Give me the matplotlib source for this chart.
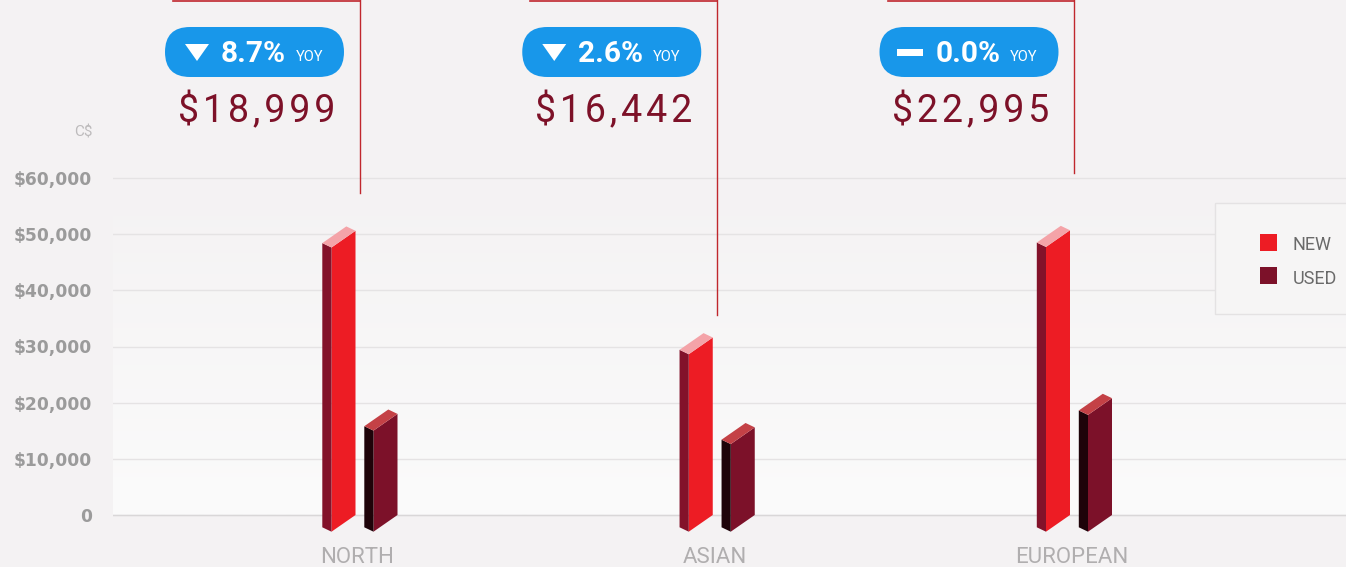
import numpy as np
import matplotlib.pyplot as plt
from matplotlib.colors import LinearSegmentedColormap
from matplotlib.patches import FancyBboxPatch, Rectangle, Polygon

plt.rcParams['font.family'] = ['Roboto', 'DejaVu Sans']

# Datos del grafico
categories = ['NORTH', 'ASIAN', 'EUROPEAN']
new_values = [50600, 31600, 50700]
used_values = [18000, 15600, 20800]
yoy_change = [-8.7, -2.6, 0.0]
avg_price = [18999, 16442, 22995]
marker_level = [57300, 35600, 60900]
y_ticks = [0, 10000, 20000, 30000, 40000, 50000, 60000]
y_labels = ['0', '$10,000', '$20,000', '$30,000', '$40,000', '$50,000', '$60,000']
legend_labels = ['NEW', 'USED']

# Colores (frente, lateral, tapa)
new_colors = ('#ed1c24', '#83122a', '#f4a3a8')
used_colors = ('#7c1129', '#1e0309', '#c44146')
bg = '#f4f2f3'
blue = '#1897ea'
crimson = '#7d1128'
line_red = '#c0272d'

# Geometria en pixeles
W, H = 1346, 567
ax_left = 113
zero_px, top_px = 515, 178
cat_px, cat_step = 359.5, 357.25

fig = plt.figure(figsize=(W / 100, H / 100), dpi=100, facecolor=bg)
ax = fig.add_axes([ax_left / W, 0, 1 - ax_left / W, 1])
ax.set_facecolor(bg)

px_per_dollar = (zero_px - top_px) / 60000
xmin = -(cat_px - ax_left) / cat_step
xmax = xmin + (W - ax_left) / cat_step
ymin = -(H - zero_px) / px_per_dollar
ymax = zero_px / px_per_dollar
ux = 1 / cat_step          # unidades x por pixel
uy = 1 / px_per_dollar     # unidades y por pixel

# Fondo degradado del area de datos
grad = np.linspace(0, 1, 256).reshape(-1, 1)
cmap = LinearSegmentedColormap.from_list('bg', ['#fbfbfb', bg])
ax.imshow(grad, extent=[xmin, xmax, 0, 60000], origin='lower', cmap=cmap,
          aspect='auto', zorder=0)

ax.set_xlim(xmin, xmax)
ax.set_ylim(ymin, ymax)
ax.grid(axis='y', color='#e5e3e4', lw=1)
ax.set_axisbelow(True)
ax.axhline(0, color='#d9d7d8', lw=1, zorder=1)
for s in ax.spines.values():
    s.set_visible(False)
ax.set_xticks([])
ax.set_yticks(y_ticks, y_labels)
for t in ax.get_yticklabels():
    t.set_fontfamily('DejaVu Sans')
    t.set_fontweight('bold')
ax.tick_params(axis='y', length=0, pad=15, labelsize=12.3, labelcolor='#9b9b9b')


# Barra 3D: esquina frontal derecha apoyada en cero
def bar3d(x_right, h, colors):
    fx, fy = 24 * ux, 16.7 * uy
    sx, sy = 9.2 * ux, 4.4 * uy
    fl = (x_right - fx, -fy)
    fr = (x_right, 0)
    lb = (fl[0] - sx, fl[1] + sy)
    br = (x_right - sx, sy)
    front = [fl, fr, (fr[0], h), (fl[0], fl[1] + h)]
    left = [lb, fl, (fl[0], fl[1] + h), (lb[0], lb[1] + h)]
    top = [(fl[0], fl[1] + h), (fr[0], h), (br[0], br[1] + h), (lb[0], lb[1] + h)]
    for poly, c in zip([front, left, top], colors):
        ax.add_patch(Polygon(poly, closed=True, fc=c, ec='none', zorder=3))


for i in range(len(categories)):
    bar3d(i - 4 * ux, new_values[i], new_colors)
    bar3d(i + 38 * ux, used_values[i], used_colors)
    ax.plot([i, i], [marker_level[i], ymax], color=line_red, lw=1, zorder=2,
            clip_on=False)
    ax.text(i - 2 * ux, -(563 - zero_px) * uy, categories[i], ha='center',
            va='baseline', fontsize=16, color='#b0aeaf')

# Capa superior en pixeles para etiquetas
ov = fig.add_axes([0, 0, 1, 1])
ov.set_xlim(0, W)
ov.set_ylim(H, 0)
ov.axis('off')
ov.patch.set_alpha(0)

for i, (chg, price) in enumerate(zip(yoy_change, avg_price)):
    cx = ax.transData.transform((i, 0))[0]
    bx = cx - 105
    left = bx - 89.5
    ov.plot([left + 8, cx], [0.5, 0.5], color=line_red, lw=1.2)
    ov.add_patch(FancyBboxPatch((left, 27), 179, 50,
                                boxstyle='round,pad=0,rounding_size=25',
                                fc=blue, ec='none'))
    if chg < 0:
        ov.add_patch(Polygon([(left + 20, 44), (left + 44, 44), (left + 32, 61)],
                             fc='white', ec='none'))
    elif chg > 0:
        ov.add_patch(Polygon([(left + 20, 61), (left + 44, 61), (left + 32, 44)],
                             fc='white', ec='none'))
    else:
        ov.add_patch(Rectangle((left + 17, 49), 26, 7, fc='white', ec='none'))
    ov.text(left + 56, 62, f'{abs(chg):.1f}%', color='white', fontsize=21.5,
            fontweight='bold', va='baseline')
    ov.text(left + 179 - 21, 61, 'YOY', color='white', fontsize=10.5,
            ha='right', va='baseline')
    ov.text(bx + 2, 122, '\u200a'.join(f'${price:,}'), color=crimson,
            fontsize=27, ha='center', va='baseline')

ov.text(93, 136, 'C$', ha='right', va='baseline', fontsize=11, color='#bdbbbc')

# Leyenda
ov.add_patch(Rectangle((1215, 203), 200, 111, fc='#f6f5f5', ec='#e4e2e3', lw=1))
for j, (lab, c) in enumerate(zip(legend_labels, [new_colors[0], used_colors[0]])):
    ov.add_patch(Rectangle((1260, 234 + 33 * j), 17, 17, fc=c, ec='none'))
    ov.text(1293, 250 + 33.5 * j, lab, fontsize=13, color='#6a6a6a', va='baseline')

fig.savefig('out.png', dpi=100, facecolor=fig.get_facecolor())
